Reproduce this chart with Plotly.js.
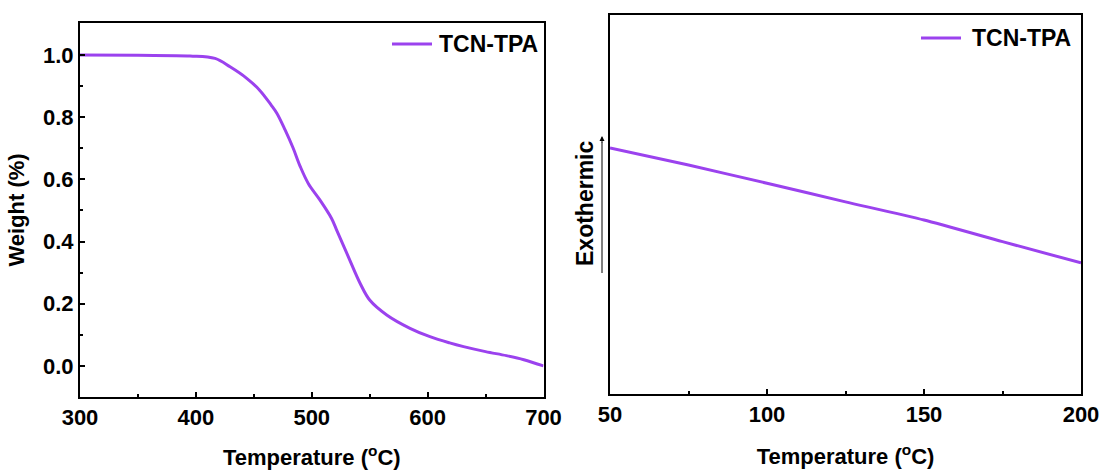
<!DOCTYPE html>
<html>
<head>
<meta charset="utf-8">
<script src="https://cdn.plot.ly/plotly-3.0.1.min.js"></script>
<style>
  html, body { margin: 0; padding: 0; background: #ffffff; }
  #chart { width: 1103px; height: 473px; }
</style>
</head>
<body>
<div id="chart"></div>
<script>
// TGA curve: temperature (°C) vs remaining weight fraction
const tgaTemp = [300, 350, 395, 416.5, 429.5, 443.9, 455, 465, 470, 477, 484, 490, 497, 507, 517, 521.5, 531.6, 541.7, 550, 564.7, 584.8, 602, 619, 631, 650, 668, 683, 700];
const tgaWeight = [1.0, 0.999, 0.997, 0.989, 0.962, 0.925, 0.887, 0.839, 0.812, 0.759, 0.700, 0.642, 0.587, 0.534, 0.475, 0.437, 0.351, 0.266, 0.212, 0.164, 0.121, 0.094, 0.074, 0.062, 0.046, 0.033, 0.020, 0.0];

// DSC curve: temperature (°C) vs heat flow (arbitrary units)
const dscTemp = [50, 75, 100, 125, 150, 175, 200];
const dscFlow = [0.649, 0.604, 0.556, 0.507, 0.459, 0.402, 0.346];

const seriesName = 'TCN-TPA';
const lineColor = '#9B42EE';
const font = 'Liberation Sans, Arial, sans-serif';
const W = 1103, H = 473;

const traces = [
  {
    x: tgaTemp, y: tgaWeight, xaxis: 'x', yaxis: 'y',
    type: 'scatter', mode: 'lines', name: seriesName, showlegend: false,
    line: { color: lineColor, width: 3, shape: 'spline', smoothing: 1 }
  },
  {
    x: dscTemp, y: dscFlow, xaxis: 'x2', yaxis: 'y2',
    type: 'scatter', mode: 'lines', name: seriesName, showlegend: false,
    line: { color: lineColor, width: 3, shape: 'spline', smoothing: 0.6 }
  }
];

const axisBase = {
  showline: true, mirror: true, linecolor: '#000', linewidth: 2,
  ticks: 'inside', ticklen: 5, tickwidth: 2, tickcolor: '#000',
  showgrid: false, zeroline: false,
  tickfont: { family: font, size: 22, color: '#000', weight: 'bold' },
  minor: { ticks: 'inside', ticklen: 3, tickwidth: 2, tickcolor: '#000', showgrid: false }
};

const titleFont = { family: font, size: 22, color: '#000', weight: 'bold' };
const legendFont = { family: font, size: 23, color: '#000', weight: 'bold' };

const layout = {
  width: W, height: H,
  margin: { l: 0, r: 0, t: 0, b: 0 },
  paper_bgcolor: '#fff', plot_bgcolor: '#fff',
  showlegend: false,
  xaxis: Object.assign({}, axisBase, {
    domain: [80 / W, 543.5 / W], anchor: 'y',
    range: [300, 700], dtick: 100, tick0: 300,
    minor: Object.assign({}, axisBase.minor, { dtick: 50 }),
    title: { text: 'Temperature (<sup>o</sup>C)', font: titleFont, standoff: 20 }
  }),
  yaxis: Object.assign({}, axisBase, {
    domain: [1 - 397 / H, 1 - 23 / H], anchor: 'x',
    range: [-0.1, 1.103], dtick: 0.2, tick0: 0, tickformat: '.1f',
    minor: Object.assign({}, axisBase.minor, { dtick: 0.1 }),
    title: { text: 'Weight (%)', font: titleFont, standoff: 12 }
  }),
  xaxis2: Object.assign({}, axisBase, {
    domain: [610 / W, 1081 / W], anchor: 'y2',
    range: [50, 200], dtick: 50, tick0: 50,
    minor: Object.assign({}, axisBase.minor, { dtick: 25 }),
    title: { text: 'Temperature (<sup>o</sup>C)', font: titleFont, standoff: 22 }
  }),
  yaxis2: Object.assign({}, axisBase, {
    domain: [1 - 394 / H, 1 - 15 / H], anchor: 'x2',
    range: [0, 1], showticklabels: false, ticks: '',
    minor: { ticks: '' }
  }),
  shapes: [
    // legend swatches
    { type: 'line', xref: 'paper', yref: 'paper', x0: 392 / W, x1: 432 / W, y0: 1 - 44 / H, y1: 1 - 44 / H,
      line: { color: lineColor, width: 3 } },
    { type: 'line', xref: 'paper', yref: 'paper', x0: 921 / W, x1: 961 / W, y0: 1 - 38 / H, y1: 1 - 38 / H,
      line: { color: lineColor, width: 3 } },
    // exothermic direction line
    { type: 'line', xref: 'paper', yref: 'paper', x0: 602 / W, x1: 602 / W, y0: 1 - 273 / H, y1: 1 - 142 / H,
      line: { color: '#000', width: 1 } }
  ],
  annotations: [
    { xref: 'paper', yref: 'paper', x: 437 / W, y: 1 - 44 / H, xanchor: 'left', yanchor: 'middle',
      text: seriesName, showarrow: false, font: legendFont },
    { xref: 'paper', yref: 'paper', x: 970 / W, y: 1 - 38 / H, xanchor: 'left', yanchor: 'middle',
      text: seriesName, showarrow: false, font: legendFont },
    { xref: 'paper', yref: 'paper', x: 585 / W, y: 1 - 204 / H, xanchor: 'center', yanchor: 'middle',
      text: 'Exothermic', showarrow: false, textangle: -90, font: { family: font, size: 23, color: '#000', weight: 'bold' } },
    { xref: 'paper', yref: 'paper', x: 602 / W, y: 1 - 136 / H, ax: 0, ay: 8, text: '',
      showarrow: true, arrowhead: 2, arrowsize: 1, arrowwidth: 1, arrowcolor: '#000', standoff: 0 }
  ]
};

Plotly.newPlot('chart', traces, layout, { displayModeBar: false, staticPlot: true });
</script>
</body>
</html>
